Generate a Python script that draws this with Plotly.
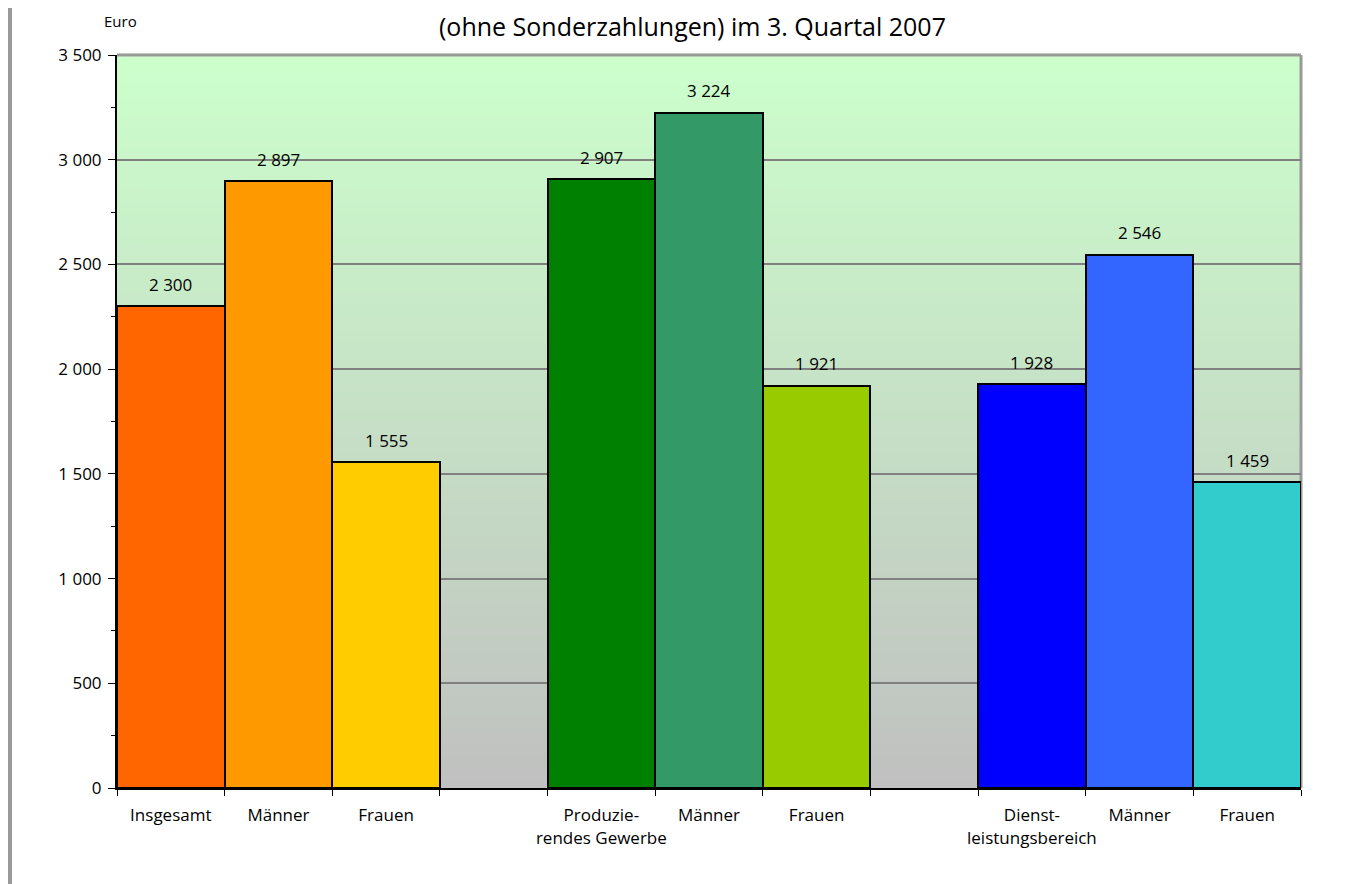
import plotly.graph_objects as go

# Data
labels = ["Insgesamt", "Männer", "Frauen",
          "Produzie-<br>rendes Gewerbe", "Männer", "Frauen",
          "Dienst-<br>leistungsbereich", "Männer", "Frauen"]
values = [2300, 2897, 1555, 2907, 3224, 1921, 1928, 2546, 1459]
positions = [0, 1, 2, 4, 5, 6, 8, 9, 10]
colors = ["#FF6600", "#FF9900", "#FFCC00",
          "#008000", "#339966", "#99CC00",
          "#0000FF", "#3366FF", "#33CCCC"]
y_ticks = [0, 500, 1000, 1500, 2000, 2500, 3000, 3500]
title_text = "(ohne Sonderzahlungen) im 3. Quartal 2007"
unit_text = "Euro"

FONT = "Open Sans"
OFF = 8  # page body margin
W, H = 1351 - OFF, 884 - OFF
L, T = 117 - OFF, 55 - OFF
pw, ph = 1184, 733
R, B = W - L - pw, H - T - ph

def px(X):
    return (X - OFF - L) / pw

def py(Y):
    return (OFF + T + ph - Y) / ph

def fmt(v):
    return f"{v:,}".replace(",", " ")

fig = go.Figure()
fig.add_trace(go.Bar(
    x=positions, y=values, width=1.0,
    marker=dict(color=colors, line=dict(color="black", width=2)),
    hoverinfo="x+y", showlegend=False,
))

# gradient background (light green top -> silver bottom)
shapes = []
n = 120
top = (204, 255, 204)
bot = (192, 192, 192)
for i in range(n):
    f0 = i / n
    f1 = (i + 1) / n
    fm = (f0 + f1) / 2
    c = tuple(round(bot[k] + (top[k] - bot[k]) * fm) for k in range(3))
    shapes.append(dict(type="rect", xref="paper", yref="paper",
                       x0=0, x1=1, y0=f0, y1=f1 + 0.002,
                       fillcolor=f"rgb{c}", line=dict(width=0), layer="below"))
# gray frame top/right
shapes.append(dict(type="line", xref="paper", yref="paper", x0=0, x1=1, y0=1, y1=1,
                   line=dict(color="#999999", width=3), layer="below"))
shapes.append(dict(type="line", xref="paper", yref="paper", x0=1, x1=1, y0=0, y1=1,
                   line=dict(color="#999999", width=3), layer="below"))
# left gray page bar
shapes.append(dict(type="rect", xref="paper", yref="paper",
                   x0=px(7), x1=px(12), y0=py(884), y1=py(0),
                   fillcolor="#999999", line=dict(width=0), layer="above"))

annotations = []
for p, v in zip(positions, values):
    annotations.append(dict(x=p, y=v, text=fmt(v), showarrow=False,
                            yanchor="middle", yshift=22,
                            font=dict(family=FONT, size=17, color="black")))
annotations.append(dict(x=px(120), y=py(21), xref="paper", yref="paper",
                        text=unit_text, showarrow=False, xanchor="center", yanchor="middle",
                        font=dict(family=FONT, size=15, color="black")))
annotations.append(dict(x=px(692), y=py(8.5), xref="paper", yref="paper",
                        text=title_text, showarrow=False, xanchor="center", yanchor="top",
                        borderpad=0,
                        font=dict(family=FONT, size=25, color="black")))

fig.update_layout(
    width=W, height=H,
    margin=dict(l=L, r=R, t=T, b=B, pad=0),
    paper_bgcolor="white", plot_bgcolor="rgba(0,0,0,0)",
    separators=", ",
    font=dict(family=FONT, size=17, color="black"),
    shapes=shapes, annotations=annotations,
    bargap=0,
    xaxis=dict(range=[-0.5, 10.5], tickvals=positions, ticktext=labels,
               ticks="", showgrid=False, zeroline=False,
               showline=True, linecolor="black", linewidth=2,
               tickfont=dict(family=FONT, size=17),
               ticklabelstandoff=11,
               minor=dict(tick0=-0.5, dtick=1, ticks="outside", ticklen=6,
                          tickcolor="black", tickwidth=1, showgrid=False),
               fixedrange=True),
    yaxis=dict(range=[0, 3500], tickvals=y_ticks,
               ticktext=[fmt(v) for v in y_ticks],
               ticks="outside", ticklen=7, tickcolor="black", tickwidth=1,
               showline=True, linecolor="black", linewidth=2,
               showgrid=True, gridcolor="#808080", gridwidth=2,
               zeroline=False,
               tickfont=dict(family=FONT, size=17),
               ticklabelstandoff=3,
               minor=dict(dtick=250, ticks="outside", ticklen=4,
                          tickcolor="black", tickwidth=1, showgrid=False),
               fixedrange=True),
)

fig.write_html("out.html")
